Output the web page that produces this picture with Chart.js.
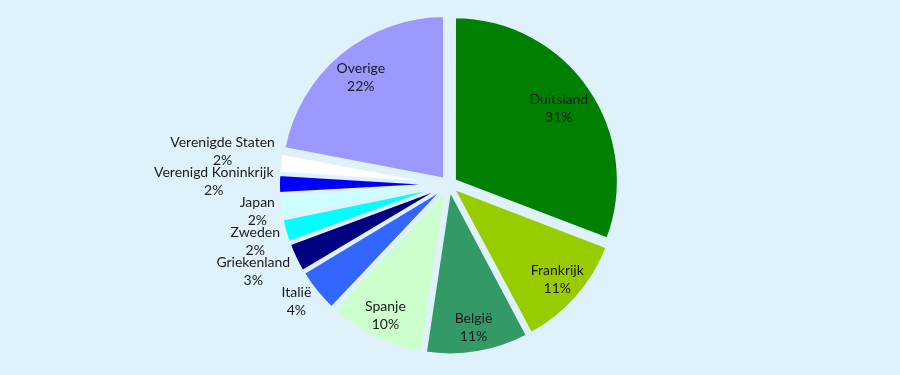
<!DOCTYPE html>
<html>
<head>
<meta charset="utf-8">
<script src="https://cdn.jsdelivr.net/npm/chart.js@4/dist/chart.umd.min.js"></script>
<style>
  html, body { margin: 0; padding: 0; background: #dff2fc; }
  #wrap { width: 900px; height: 375px; }
</style>
</head>
<body>
<div id="wrap"><canvas id="grafico"></canvas></div>
<script>
// landen (met de klok mee vanaf boven)
var landen = ['Duitsland', 'Frankrijk', 'België', 'Spanje', 'Italië', 'Griekenland', 'Zweden', 'Japan', 'Verenigd Koninkrijk', 'Verenigde Staten', 'Overige'];
var aandeel = [30.8, 11.4, 10.2, 9.6, 4.4, 3.0, 2.4, 2.3, 1.9, 2.0, 22.0];
// percentages zoals ze in de labels staan
var pctLabels = ['31%', '11%', '11%', '10%', '4%', '3%', '2%', '2%', '2%', '2%', '22%'];
var kleuren = ['#008000', '#99cc00', '#339966', '#ccffcc', '#3366ff', '#000080', '#00ffff', '#ccffff', '#0000ff', '#ffffff', '#9999ff'];

var achtergrond = '#dff2fc';
var explosie = 7; // alle stukken even ver naar buiten (px)

// chart.js verschuift een stuk met offset/4*(1+fix); omrekenen zodat elk stuk 'explosie' px verschuift
function stukOffset(c) {
    var hoek = aandeel[c.dataIndex] / 100 * 2 * Math.PI;
    var fix = 1 - Math.sin(Math.min(Math.PI, hoek));
    return 4 * explosie / (1 + fix);
}

// labels tekenen: grote stukken binnen, kleine links ernaast
var sliceLabels = {
    id: 'sliceLabels',
    afterDatasetsDraw: function (chart) {
        var ctx = chart.ctx;
        var meta = chart.getDatasetMeta(0);
        ctx.save();
        ctx.font = '14px Lato';
        ctx.fillStyle = '#1a1a1a';
        ctx.textBaseline = 'middle';
        ctx.textAlign = 'center';
        var buiten = [];
        meta.data.forEach(function (arc, i) {
            var p = arc.getProps(['x', 'y', 'startAngle', 'endAngle', 'outerRadius'], true);
            var mid = (p.startAngle + p.endAngle) / 2;
            var cx = p.x + Math.cos(mid) * explosie;
            var cy = p.y + Math.sin(mid) * explosie;
            var share = aandeel[i] / 100;
            if (share >= 0.08) {
                var f = 0.88 - 0.35 * share;
                var lx = cx + Math.cos(mid) * p.outerRadius * f;
                var ly = cy + Math.sin(mid) * p.outerRadius * f;
                ctx.fillText(landen[i], lx, ly - 9);
                ctx.fillText(pctLabels[i], lx, ly + 9);
            } else {
                buiten.push({
                    i: i,
                    links: Math.cos(mid) < 0,
                    ex: cx + Math.cos(mid) * p.outerRadius,
                    ey: cy + Math.sin(mid) * p.outerRadius
                });
            }
        });
        // labels onder elkaar stapelen zonder overlap
        buiten.sort(function (a, b) { return a.ey - b.ey; });
        var gap = 30;
        var ys = [];
        var somN = 0, somY = 0;
        buiten.forEach(function (b, k) {
            var y = b.ey;
            if (k > 0) y = Math.max(y, ys[k - 1] + gap);
            ys.push(y);
            somN += b.ey;
            somY += y;
        });
        var corr = buiten.length ? (somN - somY) / buiten.length + 4 : 0;
        buiten.forEach(function (b, k) {
            var w = Math.max(ctx.measureText(landen[b.i]).width, ctx.measureText(pctLabels[b.i]).width);
            var y = ys[k] + corr;
            var x = b.links ? b.ex - 5 - w / 2 : b.ex + 5 + w / 2;
            ctx.fillText(landen[b.i], x, y - 9);
            ctx.fillText(pctLabels[b.i], x, y + 9);
        });
        ctx.restore();
    }
};

var ctx = document.querySelector('#grafico').getContext('2d');
var taart = new Chart(ctx, {
    type: 'pie',
    data: {
        labels: landen,
        datasets: [{
            data: aandeel,
            backgroundColor: kleuren,
            borderColor: achtergrond,
            borderWidth: 3,
            hoverBorderWidth: 3,
            offset: stukOffset,
            hoverOffset: 0
        }]
    },
    options: {
        responsive: true,
        maintainAspectRatio: false,
        animation: false,
        radius: 163.5,
        layout: { padding: { top: 0, bottom: 6, left: 0, right: 2 } },
        plugins: {
            legend: { display: false },
            tooltip: { enabled: false }
        }
    },
    plugins: [sliceLabels]
});
</script>
</body>
</html>
